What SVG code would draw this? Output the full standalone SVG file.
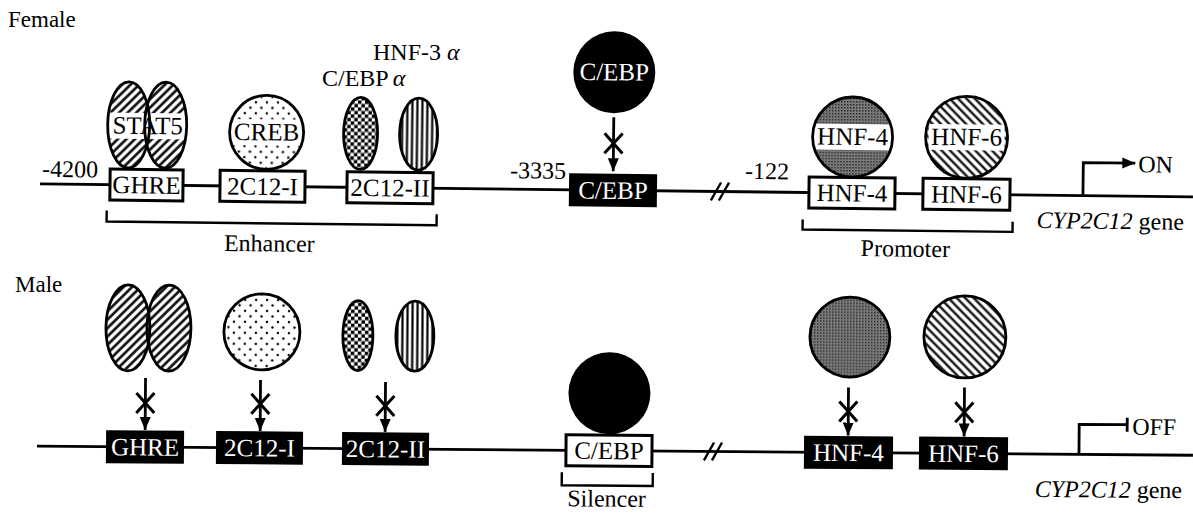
<svg xmlns="http://www.w3.org/2000/svg" width="1193" height="514" viewBox="0 0 1193 514">
<style>
.t{font-family:"Liberation Serif","Times New Roman",serif;font-size:24px;fill:#000}
.b{font-size:25px}
.s{font-size:23px}
.c{text-anchor:middle}
.w{fill:#fff}
.i{font-style:italic}
.box{fill:#fff;stroke:#000;stroke-width:3}
.bbox{fill:#000;stroke:#000;stroke-width:2}
.ol{fill:none;stroke:#000;stroke-width:2.8}
.ln{fill:none;stroke:#000;stroke-width:2.8}
.br{fill:none;stroke:#000;stroke-width:2.4}
.x{fill:none;stroke:#000;stroke-width:3}
</style>
<defs>
<marker id="ah" markerUnits="userSpaceOnUse" markerWidth="13" markerHeight="12" viewBox="0 0 13 11" refX="13" refY="5.5" orient="auto"><path d="M0,0 L13,5.5 L0,11 z" fill="#000"/></marker>
<pattern id="hatchF" width="6" height="6" patternUnits="userSpaceOnUse" patternTransform="rotate(45)"><rect width="6" height="6" fill="#fff"/><line x1="1.5" y1="0" x2="1.5" y2="6" stroke="#000" stroke-width="2.5"/></pattern>
<pattern id="hatchB" width="6" height="6" patternUnits="userSpaceOnUse" patternTransform="rotate(-45)"><rect width="6" height="6" fill="#fff"/><line x1="1.5" y1="0" x2="1.5" y2="6" stroke="#000" stroke-width="2.2"/></pattern>
<pattern id="dots" width="11" height="11" patternUnits="userSpaceOnUse"><rect width="11" height="11" fill="#fff"/><circle cx="2" cy="2" r="1.2" fill="#000"/><circle cx="7.5" cy="7.5" r="1.2" fill="#000"/></pattern>
<pattern id="checker" width="7" height="7" patternUnits="userSpaceOnUse"><rect width="7" height="7" fill="#fff"/><rect width="3.5" height="3.5" fill="#000"/><rect x="3.5" y="3.5" width="3.5" height="3.5" fill="#000"/></pattern>
<pattern id="vstripe" width="5" height="5" patternUnits="userSpaceOnUse"><rect width="5" height="5" fill="#fff"/><line x1="1.5" y1="0" x2="1.5" y2="5" stroke="#000" stroke-width="2.2"/></pattern>
<pattern id="stip" width="3" height="3" patternUnits="userSpaceOnUse"><rect width="3" height="3" fill="#8a8a8a"/><rect width="1.5" height="1.5" fill="#1a1a1a"/><rect x="1.5" y="1.5" width="1" height="1" fill="#444"/></pattern>
<clipPath id="cpStatT"><ellipse cx="128" cy="125" rx="21" ry="43"/><ellipse cx="165" cy="125" rx="21" ry="43"/></clipPath>
<clipPath id="cpCrebT"><circle cx="266" cy="131" r="37"/></clipPath>
<clipPath id="cpH4T"><circle cx="852" cy="129" r="40"/></clipPath>
<clipPath id="cpH6T"><circle cx="966" cy="128" r="41"/></clipPath>
</defs>

<rect width="1193" height="514" fill="#fff"/>

<g id="label-female"><text class="t s" x="8" y="27">Female</text></g>
<g id="label-male"><text class="t s" x="15" y="292">Male</text></g>
<g id="label-hnf3a"><text class="t" x="373" y="60">HNF-3 <tspan class="i">α</tspan></text></g>
<g id="label-cebpa"><text class="t" x="322" y="86">C/EBP<tspan class="i" dx="4">α</tspan></text></g>

<g id="connectors">
  <g transform="rotate(0.65 146 185)">
    <path class="ln" d="M40,185 H1193"/>
    <path class="br" d="M711,194 L721,176 M719,194 L729,176"/>
    <path class="ln" d="M613,112 V166" marker-end="url(#ah)"/>
    <path class="x" d="M604,128 L622,148 M622,128 L604,148"/>
    <path class="ln" d="M1083,185 V152 H1135" marker-end="url(#ah)"/>
    <path class="br" d="M107,211 V222 H437 V211"/>
    <path class="br" d="M803,212 V222 H1013 V212"/>
  </g>
  <g transform="rotate(0.45 145 447)">
    <path class="ln" d="M37,447 H1193"/>
    <path class="br" d="M704,456 L714,438 M712,456 L722,438"/>
    <path class="ln" d="M145,378 V430" marker-end="url(#ah)"/>
    <path class="x" d="M136,393 L154,413 M154,393 L136,413"/>
    <path class="ln" d="M260,379 V430" marker-end="url(#ah)"/>
    <path class="x" d="M251,393 L269,413 M269,393 L251,413"/>
    <path class="ln" d="M385,380 V430" marker-end="url(#ah)"/>
    <path class="x" d="M376,394 L394,414 M394,394 L376,414"/>
    <path class="ln" d="M848,382 V430" marker-end="url(#ah)"/>
    <path class="x" d="M839,396 L857,416 M857,396 L839,416"/>
    <path class="ln" d="M964,381 V430" marker-end="url(#ah)"/>
    <path class="x" d="M955,396 L973,416 M973,396 L955,416"/>
    <path class="ln" d="M1079,447 V417 H1127"/>
    <path class="ln" d="M1127,410 V424"/>
    <path class="br" d="M562,469 V482 H653 V469"/>
  </g>
</g>

<g transform="rotate(0.65 146 185)">
  <g id="f-stat5">
    <ellipse cx="128" cy="125" rx="21" ry="43" fill="url(#hatchF)"/>
    <ellipse cx="165" cy="125" rx="21" ry="43" fill="url(#hatchF)"/>
    <rect x="100" y="113" width="95" height="26" fill="#fff" clip-path="url(#cpStatT)"/>
    <ellipse class="ol" cx="128" cy="125" rx="21" ry="43"/>
    <ellipse class="ol" cx="165" cy="125" rx="21" ry="43"/>
    <text class="t c b" x="147" y="134">STAT5</text>
  </g>
  <g id="f-creb">
    <circle cx="266" cy="131" r="37" fill="url(#dots)"/>
    <rect x="225" y="118" width="82" height="26" fill="#fff" clip-path="url(#cpCrebT)"/>
    <circle class="ol" cx="266" cy="131" r="37"/>
    <text class="t c b" x="266" y="139">CREB</text>
  </g>
  <g id="f-cebpa">
    <ellipse cx="360" cy="131" rx="17" ry="36" fill="url(#checker)"/>
    <ellipse class="ol" cx="360" cy="131" rx="17" ry="36"/>
  </g>
  <g id="f-hnf3a">
    <ellipse cx="418" cy="131" rx="19" ry="36" fill="url(#vstripe)"/>
    <ellipse class="ol" cx="418" cy="131" rx="19" ry="36"/>
  </g>
  <g id="f-cebp-protein">
    <circle cx="613" cy="67" r="41" fill="#000"/>
    <text class="t c w b" x="613" y="75">C/EBP</text>
  </g>
  <g id="f-hnf4-protein">
    <circle cx="852" cy="129" r="40" fill="url(#stip)"/>
    <rect x="810" y="116" width="84" height="26" fill="#fff" clip-path="url(#cpH4T)"/>
    <circle class="ol" cx="852" cy="129" r="40"/>
    <text class="t c b" x="852" y="137">HNF-4</text>
  </g>
  <g id="f-hnf6-protein">
    <circle cx="966" cy="128" r="41" fill="url(#hatchB)"/>
    <rect x="928" y="115" width="76" height="26" fill="#fff" clip-path="url(#cpH6T)"/>
    <circle class="ol" cx="966" cy="128" r="41"/>
    <text class="t c b" x="966" y="136">HNF-6</text>
  </g>
  <g id="f-ghre"><rect class="box" x="110" y="169.5" width="73" height="31"/><text class="t c b" x="146.5" y="193.5">GHRE</text></g>
  <g id="f-2c12-1"><rect class="box" x="220" y="169.5" width="85" height="31"/><text class="t c b" x="262.5" y="193.5">2C12-I</text></g>
  <g id="f-2c12-2"><rect class="box" x="347" y="169.5" width="86" height="31"/><text class="t c b" x="390" y="193.5">2C12-II</text></g>
  <g id="f-cebp-site"><rect class="bbox" x="570" y="169.5" width="86" height="31"/><text class="t c w b" x="613" y="193.5">C/EBP</text></g>
  <g id="f-hnf4-site"><rect class="box" x="809" y="169.5" width="86" height="31"/><text class="t c b" x="852" y="193.5">HNF-4</text></g>
  <g id="f-hnf6-site"><rect class="box" x="923" y="169.5" width="87" height="31"/><text class="t c b" x="966.5" y="193.5">HNF-6</text></g>
  <g id="f-texts">
    <text class="t" x="42" y="178">-4200</text>
    <text class="t" x="510" y="174">-3335</text>
    <text class="t" x="745" y="172">-122</text>
    <text class="t c" x="270" y="250">Enhancer</text>
    <text class="t c" x="906" y="248">Promoter</text>
    <text class="t" x="1138" y="161">ON</text>
    <text class="t" x="1037" y="218"><tspan class="i">CYP2C12</tspan> gene</text>
  </g>
</g>

<g transform="rotate(0.45 145 447)">
  <g id="m-stat5">
    <ellipse cx="127" cy="328" rx="22" ry="43" fill="url(#hatchF)"/>
    <ellipse cx="168" cy="328" rx="22" ry="43" fill="url(#hatchF)"/>
    <ellipse class="ol" cx="127" cy="328" rx="22" ry="43"/>
    <ellipse class="ol" cx="168" cy="328" rx="22" ry="43"/>
  </g>
  <g id="m-creb">
    <circle cx="261" cy="331" r="38" fill="url(#dots)"/>
    <circle class="ol" cx="261" cy="331" r="38"/>
  </g>
  <g id="m-cebpa">
    <ellipse cx="357" cy="334" rx="15" ry="35" fill="url(#checker)"/>
    <ellipse class="ol" cx="357" cy="334" rx="15" ry="35"/>
  </g>
  <g id="m-hnf3a">
    <ellipse cx="414" cy="334" rx="19" ry="35" fill="url(#vstripe)"/>
    <ellipse class="ol" cx="414" cy="334" rx="19" ry="35"/>
  </g>
  <g id="m-cebp-protein">
    <circle cx="609" cy="389.5" r="41" fill="#000"/>
  </g>
  <g id="m-hnf4-protein">
    <circle cx="849" cy="331.5" r="40" fill="url(#stip)"/>
    <circle class="ol" cx="849" cy="331.5" r="40"/>
  </g>
  <g id="m-hnf6-protein">
    <circle cx="964" cy="330.5" r="41" fill="url(#hatchB)"/>
    <circle class="ol" cx="964" cy="330.5" r="41"/>
  </g>
  <g id="m-ghre"><rect class="bbox" x="107" y="431.5" width="76" height="31"/><text class="t c w b" x="145" y="455.5">GHRE</text></g>
  <g id="m-2c12-1"><rect class="bbox" x="217" y="431.5" width="85" height="31"/><text class="t c w b" x="259.5" y="455.5">2C12-I</text></g>
  <g id="m-2c12-2"><rect class="bbox" x="343" y="431.5" width="85" height="31"/><text class="t c w b" x="385.5" y="455.5">2C12-II</text></g>
  <g id="m-cebp-site"><rect class="box" x="566" y="431.5" width="86" height="31"/><text class="t c b" x="609" y="455.5">C/EBP</text></g>
  <g id="m-hnf4-site"><rect class="bbox" x="805" y="431.5" width="87" height="31"/><text class="t c w b" x="848.5" y="455.5">HNF-4</text></g>
  <g id="m-hnf6-site"><rect class="bbox" x="920" y="431.5" width="87" height="31"/><text class="t c w b" x="963.5" y="455.5">HNF-6</text></g>
  <g id="m-texts">
    <text class="t c" x="607" y="503">Silencer</text>
    <text class="t" x="1132" y="427">OFF</text>
    <text class="t" x="1035" y="490"><tspan class="i">CYP2C12</tspan> gene</text>
  </g>
</g>
</svg>
